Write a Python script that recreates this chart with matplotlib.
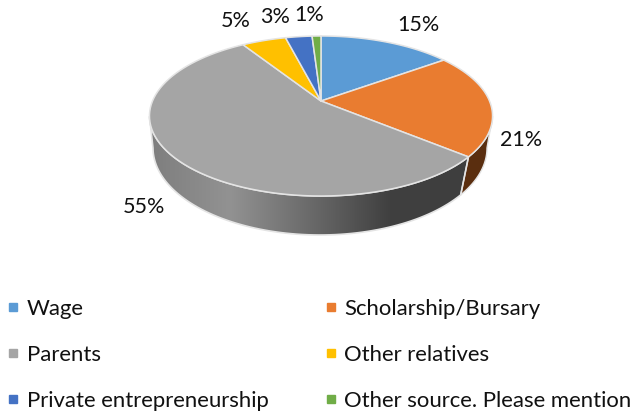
import numpy as np
import matplotlib
matplotlib.use('Agg')
import matplotlib.pyplot as plt
from matplotlib.colors import LinearSegmentedColormap
from matplotlib.lines import Line2D
from matplotlib.patches import Polygon

# data
categories = ['Wage', 'Scholarship/Bursary', 'Parents', 'Other relatives',
              'Private entrepreneurship', 'Other source. Please mention']
values = [15, 21, 55, 5, 3, 1]
colors = ['#5B9BD5', '#E97C30', '#A5A5A5', '#FFC000', '#4472C4', '#70AD47']

# pie geometry in pixels, the top face is a circle seen in perspective
CX, APEX_Y = 321, 101
A, B, K = 168.5, 77.2, 0.1875
BOT_CX, BOT_CY, BOT_RX, BOT_RY = 320, 148, 167, 87
EDGE = '#e4e4e4'


def top_arc(t0, t1, n=80):
    t = np.radians(np.linspace(t0, t1, n))
    d = 1 + K * np.cos(t)
    return np.column_stack([CX + A * np.sin(t) / d, APEX_Y - B * np.cos(t) / d])


def bottom_arc(t0, t1, n=80):
    # side angles 101..259 are the visible part, they go to 90..270 on the lower ellipse
    p = np.radians(90 + (np.linspace(t0, t1, n) - 101) * 180 / 158)
    return np.column_stack([BOT_CX + BOT_RX * np.sin(p), BOT_CY - BOT_RY * np.cos(p)])


def side(t0, t1):
    return np.vstack([top_arc(t0, t1), bottom_arc(t0, t1)[::-1]])


fig = plt.figure(figsize=(6.37, 4.12), dpi=100)
plt.rcParams['font.family'] = ['Lato', 'DejaVu Sans']
ax = fig.add_axes([0, 0, 1, 1])

edges = 3.6 * np.cumsum([0] + values)

# side of the pie
grey_side = Polygon(side(edges[2], 259), closed=True,
                    facecolor='none', edgecolor=EDGE, lw=1.2, zorder=3)
ax.add_patch(grey_side)
cmap = LinearSegmentedColormap.from_list('side', ['#7e7e7e', '#929292', '#6a6a6a', '#404040', '#3e3e3e'])
im = ax.imshow(np.linspace(0, 1, 256)[None, :], cmap=cmap, extent=[150, 470, 240, 100],
               aspect='auto', zorder=2)
im.set_clip_path(grey_side)
ax.add_patch(Polygon(side(101, edges[2]), closed=True, facecolor='#5a2e0f',
                     edgecolor=EDGE, lw=1.0, zorder=2.5))

# top face
for i, val in enumerate(values):
    pts = np.vstack([[[CX, APEX_Y]], top_arc(edges[i], edges[i + 1])])
    ax.fill(pts[:, 0], pts[:, 1], facecolor=colors[i], edgecolor=EDGE, lw=1.1,
            joinstyle='round', zorder=4)

# data labels
label_pos = [(418, 25), (521, 140), (144, 207), (236, 21), (275, 17), (309, 15)]
for val, (x, y) in zip(values, label_pos):
    ax.text(x, y, f'{val}%', ha='center', va='center', fontsize=15.5, color='#111111', zorder=5)

ax.set_xlim(0, 637)
ax.set_ylim(412, 0)
ax.axis('off')

# columns fill first, so the order is left column then right column
order = [0, 2, 4, 1, 3, 5]
handles = [Line2D([], [], ls='none', marker='s', ms=5.2, color=colors[i]) for i in order]
ax.legend(handles, [categories[i] for i in order], ncol=2, loc='lower left',
          bbox_to_anchor=(0.003, -0.008), frameon=False, fontsize=15.9,
          labelcolor='#111111', handlelength=0.6, handletextpad=0.33,
          columnspacing=2.5, labelspacing=1.18, borderpad=0.2, borderaxespad=0)

fig.savefig('out.png', dpi=100)
plt.close(fig)
